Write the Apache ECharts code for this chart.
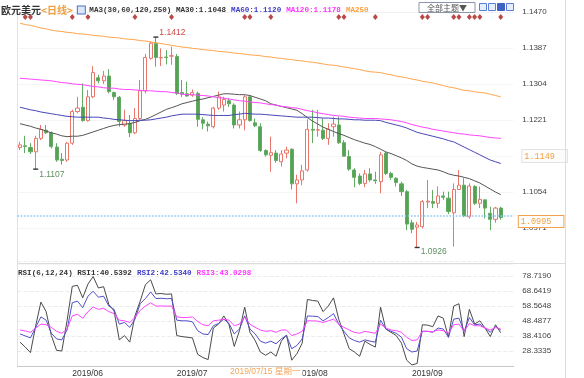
<!DOCTYPE html>
<html>
<head>
<meta charset="utf-8">
<script src="https://cdn.jsdelivr.net/npm/echarts@6.0.0/dist/echarts.min.js"></script>
<style>
html, body { margin: 0; padding: 0; background: #fff; }
#main { width: 584px; height: 378px; }
</style>
</head>
<body>
<div id="main"></div>
<script>
// daily EUR/USD candles, 2019/05/20 - 2019/09/25
var dates = [
  '2019/05/20','2019/05/21','2019/05/22','2019/05/23','2019/05/24','2019/05/27','2019/05/28','2019/05/29','2019/05/30','2019/05/31',
  '2019/06/03','2019/06/04','2019/06/05','2019/06/06','2019/06/07','2019/06/10','2019/06/11','2019/06/12','2019/06/13','2019/06/14',
  '2019/06/17','2019/06/18','2019/06/19','2019/06/20','2019/06/21','2019/06/24','2019/06/25','2019/06/26','2019/06/27','2019/06/28',
  '2019/07/01','2019/07/02','2019/07/03','2019/07/04','2019/07/05','2019/07/08','2019/07/09','2019/07/10','2019/07/11','2019/07/12',
  '2019/07/15','2019/07/16','2019/07/17','2019/07/18','2019/07/19','2019/07/22','2019/07/23','2019/07/24','2019/07/25','2019/07/26',
  '2019/07/29','2019/07/30','2019/07/31','2019/08/01','2019/08/02','2019/08/05','2019/08/06','2019/08/07','2019/08/08','2019/08/09',
  '2019/08/12','2019/08/13','2019/08/14','2019/08/15','2019/08/16','2019/08/19','2019/08/20','2019/08/21','2019/08/22','2019/08/23',
  '2019/08/26','2019/08/27','2019/08/28','2019/08/29','2019/08/30','2019/09/02','2019/09/03','2019/09/04','2019/09/05','2019/09/06',
  '2019/09/09','2019/09/10','2019/09/11','2019/09/12','2019/09/13','2019/09/16','2019/09/17','2019/09/18','2019/09/19','2019/09/20',
  '2019/09/23','2019/09/24','2019/09/25'
];
var opens = [1.1157,1.1161,1.1157,1.1147,1.1178,1.1197,1.1191,1.1158,1.1130,1.1128,
  1.1167,1.1240,1.1250,1.1219,1.1274,1.1318,1.1311,1.1322,1.1284,1.1273,
  1.1209,1.1213,1.1191,1.1224,1.1288,1.1363,1.1398,1.1364,1.1366,1.1368,
  1.1367,1.1284,1.1281,1.1278,1.1282,1.1221,1.1211,1.1205,1.1248,1.1255,
  1.1265,1.1255,1.1209,1.1221,1.1274,1.1214,1.1205,1.1150,1.1139,1.1144,
  1.1124,1.1144,1.1153,1.1073,1.1082,1.1105,1.1199,1.1197,1.1197,1.1178,
  1.1205,1.1209,1.1168,1.1136,1.1105,1.1091,1.1074,1.1096,1.1082,1.1078,
  1.1144,1.1097,1.1086,1.1073,1.1055,1.0983,1.0973,1.0974,1.1031,1.1032,
  1.1028,1.1045,1.1040,1.1006,1.1060,1.1070,1.0997,1.1067,1.1028,1.1036,
  1.1005,1.0991,1.1017];
var closes = [1.1163,1.1159,1.1147,1.1178,1.1199,1.1191,1.1159,1.1128,1.1127,1.1167,
  1.1240,1.1248,1.1219,1.1274,1.1330,1.1311,1.1322,1.1286,1.1274,1.1217,
  1.1219,1.1191,1.1224,1.1288,1.1365,1.1398,1.1365,1.1365,1.1365,1.1369,
  1.1282,1.1281,1.1276,1.1284,1.1222,1.1213,1.1207,1.1248,1.1274,1.1268,
  1.1258,1.1209,1.1221,1.1274,1.1219,1.1207,1.1150,1.1140,1.1145,1.1127,
  1.1142,1.1151,1.1073,1.1082,1.1103,1.1199,1.1197,1.1198,1.1178,1.1199,
  1.1211,1.1168,1.1137,1.1107,1.1088,1.1074,1.1096,1.1082,1.1080,1.1140,
  1.1097,1.1088,1.1076,1.1055,1.0980,1.0968,1.0978,1.1032,1.1033,1.1028,
  1.1045,1.1042,1.1009,1.1060,1.1070,1.0999,1.1068,1.1028,1.1037,1.1017,
  1.0991,1.1017,1.0995];
var highs = [1.1170,1.1184,1.1167,1.1184,1.1209,1.1209,1.1194,1.1167,1.1144,1.1170,
  1.1244,1.1274,1.1305,1.1290,1.1345,1.1325,1.1334,1.1338,1.1286,1.1276,
  1.1244,1.1232,1.1248,1.1313,1.1373,1.1401,1.1412,1.1386,1.1382,1.1390,
  1.1373,1.1313,1.1309,1.1291,1.1286,1.1227,1.1217,1.1251,1.1286,1.1274,
  1.1271,1.1259,1.1240,1.1278,1.1278,1.1224,1.1213,1.1153,1.1182,1.1151,
  1.1151,1.1159,1.1155,1.1094,1.1117,1.1222,1.1244,1.1244,1.1224,1.1213,
  1.1228,1.1228,1.1174,1.1151,1.1109,1.1097,1.1105,1.1109,1.1101,1.1147,
  1.1147,1.1101,1.1088,1.1078,1.1059,1.0990,1.0985,1.1036,1.1082,1.1059,
  1.1067,1.1055,1.1055,1.1074,1.1105,1.1086,1.1074,1.1070,1.1067,1.1036,
  1.1020,1.1020,1.1020];
var lows = [1.1151,1.1144,1.1142,1.1107,1.1174,1.1188,1.1155,1.1124,1.1117,1.1124,
  1.1163,1.1236,1.1217,1.1217,1.1271,1.1305,1.1304,1.1282,1.1267,1.1205,
  1.1205,1.1181,1.1188,1.1221,1.1282,1.1360,1.1344,1.1345,1.1349,1.1348,
  1.1278,1.1274,1.1274,1.1274,1.1205,1.1199,1.1194,1.1201,1.1244,1.1240,
  1.1251,1.1201,1.1201,1.1197,1.1217,1.1204,1.1147,1.1136,1.1101,1.1122,
  1.1113,1.1132,1.1060,1.1028,1.1070,1.1101,1.1167,1.1182,1.1174,1.1163,
  1.1182,1.1165,1.1136,1.1103,1.1065,1.1070,1.1065,1.1078,1.1073,1.1051,
  1.1093,1.1082,1.1067,1.1045,1.0966,1.0959,1.0926,1.0970,1.1017,1.1017,
  1.1017,1.1036,1.1003,1.0928,1.1059,1.0996,1.0993,1.1024,1.1017,1.0993,
  1.0966,1.0983,1.0990];

var ma30 = [1.1212,1.1209,1.1206,1.1202,1.1199,1.1195,1.1191,1.1188,1.1184,1.1182,
  1.1183,1.1183,1.1185,1.1189,1.1193,1.1197,1.1201,1.1205,1.1208,1.1210,
  1.1211,1.1212,1.1215,1.1219,1.1222,1.1227,1.1233,1.1239,1.1245,1.1249,
  1.1253,1.1258,1.1261,1.1264,1.1267,1.1269,1.1272,1.1275,1.1278,1.1281,
  1.1281,1.1280,1.1279,1.1279,1.1277,1.1273,1.1269,1.1265,1.1258,1.1255,
  1.1252,1.1249,1.1246,1.1243,1.1235,1.1226,1.1218,1.1211,1.1204,1.1199,
  1.1194,1.1189,1.1185,1.1180,1.1175,1.1171,1.1167,1.1164,1.1159,1.1153,
  1.1147,1.1143,1.1138,1.1133,1.1127,1.1119,1.1114,1.1111,1.1109,1.1107,
  1.1105,1.1101,1.1096,1.1093,1.1091,1.1088,1.1085,1.1080,1.1075,1.1068,
  1.1061,1.1054,1.1048];
var ma60 = [1.1250,1.1247,1.1244,1.1242,1.1239,1.1237,1.1235,1.1233,1.1231,1.1229,
  1.1228,1.1227,1.1227,1.1227,1.1227,1.1227,1.1225,1.1224,1.1222,1.1221,
  1.1220,1.1219,1.1219,1.1220,1.1220,1.1221,1.1223,1.1225,1.1227,1.1230,
  1.1232,1.1234,1.1234,1.1234,1.1234,1.1233,1.1232,1.1231,1.1231,1.1231,
  1.1231,1.1233,1.1234,1.1236,1.1235,1.1234,1.1234,1.1233,1.1232,1.1231,
  1.1230,1.1229,1.1228,1.1227,1.1227,1.1227,1.1227,1.1226,1.1225,1.1225,
  1.1224,1.1223,1.1223,1.1222,1.1221,1.1221,1.1220,1.1220,1.1220,1.1219,
  1.1215,1.1212,1.1209,1.1206,1.1202,1.1197,1.1192,1.1189,1.1186,1.1183,
  1.1180,1.1177,1.1173,1.1170,1.1164,1.1158,1.1152,1.1146,1.1140,1.1134,
  1.1128,1.1124,1.1120];
var ma120 = [1.1317,1.1316,1.1315,1.1314,1.1313,1.1312,1.1311,1.1309,1.1307,1.1306,
  1.1304,1.1303,1.1302,1.1300,1.1298,1.1297,1.1295,1.1294,1.1294,1.1292,
  1.1291,1.1291,1.1290,1.1289,1.1288,1.1288,1.1287,1.1286,1.1286,1.1284,
  1.1283,1.1280,1.1279,1.1279,1.1278,1.1277,1.1276,1.1274,1.1272,1.1271,
  1.1269,1.1267,1.1265,1.1264,1.1262,1.1261,1.1260,1.1258,1.1256,1.1255,
  1.1252,1.1251,1.1249,1.1248,1.1245,1.1242,1.1240,1.1237,1.1235,1.1233,
  1.1231,1.1230,1.1229,1.1227,1.1226,1.1225,1.1224,1.1224,1.1224,1.1223,
  1.1222,1.1221,1.1219,1.1217,1.1214,1.1210,1.1207,1.1204,1.1202,1.1199,
  1.1197,1.1195,1.1193,1.1191,1.1189,1.1188,1.1186,1.1185,1.1184,1.1182,
  1.1180,1.1179,1.1178];
var ma250 = [1.1444,1.1441,1.1439,1.1436,1.1433,1.1431,1.1428,1.1426,1.1425,1.1423,
  1.1422,1.1420,1.1419,1.1418,1.1416,1.1415,1.1414,1.1412,1.1411,1.1410,
  1.1408,1.1407,1.1406,1.1404,1.1403,1.1401,1.1399,1.1397,1.1395,1.1393,
  1.1391,1.1389,1.1388,1.1386,1.1385,1.1383,1.1382,1.1381,1.1379,1.1378,
  1.1377,1.1375,1.1374,1.1373,1.1371,1.1370,1.1369,1.1367,1.1366,1.1364,
  1.1363,1.1361,1.1360,1.1358,1.1357,1.1355,1.1354,1.1352,1.1350,1.1348,
  1.1347,1.1345,1.1343,1.1341,1.1339,1.1337,1.1334,1.1332,1.1331,1.1330,
  1.1327,1.1325,1.1322,1.1320,1.1318,1.1315,1.1313,1.1310,1.1308,1.1306,
  1.1303,1.1300,1.1297,1.1295,1.1292,1.1289,1.1288,1.1286,1.1284,1.1283,
  1.1280,1.1277,1.1274];

var rsi1 = [34.26,30.96,27.21,45.27,61.13,54.75,38.67,28.75,28.31,48.58,
  71.71,72.37,64.00,73.25,78.31,70.60,71.49,59.59,55.19,35.80,
  38.67,34.26,51.88,61.79,72.81,76.11,66.64,66.90,66.40,66.64,
  38.67,38.01,37.56,37.12,26.11,23.91,22.59,43.73,46.38,51.88,
  45.93,31.40,41.97,57.83,40.87,35.36,27.65,25.45,27.65,24.79,
  34.92,39.11,22.15,26.55,33.60,62.89,62.23,61.79,54.75,58.49,
  64.00,49.68,39.77,29.86,27.65,24.79,34.92,32.72,30.96,57.83,
  43.07,40.87,38.67,33.60,22.15,19.00,19.94,45.93,45.70,44.61,
  51.88,50.34,37.56,58.49,60.03,38.01,56.29,46.38,48.58,43.73,
  38.01,45.93,40.5392];
var rsi2 = [39.77,38.45,37.12,44.17,51.22,49.02,40.21,36.46,35.80,42.41,
  60.69,61.79,57.39,65.10,68.40,64.44,65.10,58.49,56.29,46.38,
  47.48,44.17,49.68,60.03,63.56,67.96,63.56,63.70,63.40,63.56,
  49.02,48.58,48.58,47.92,41.97,39.77,39.33,45.27,46.81,49.68,
  46.81,39.77,43.07,51.88,43.07,39.77,34.92,33.60,34.92,33.16,
  36.46,38.67,29.86,32.06,36.46,51.88,51.66,51.44,48.58,50.78,
  53.42,46.38,41.53,37.12,35.36,34.26,35.80,34.92,34.26,49.02,
  43.07,41.53,40.21,37.56,29.86,27.65,28.31,41.53,41.53,40.87,
  43.73,43.07,37.56,49.68,50.34,41.53,50.78,45.93,46.38,43.73,
  40.87,44.61,42.5340];
var rsi3 = [42.41,41.75,40.87,43.73,46.38,45.93,44.17,41.53,40.21,43.07,
  51.88,52.98,50.34,54.75,57.83,56.29,56.95,54.75,53.42,49.02,
  48.58,47.48,50.78,55.63,58.49,60.69,58.49,58.55,58.40,58.49,
  51.22,50.78,50.78,51.22,48.14,45.93,45.27,48.58,49.02,49.68,
  49.02,45.27,46.38,51.22,46.38,44.17,42.41,41.53,41.97,40.87,
  42.41,42.41,38.67,39.77,41.53,48.58,48.58,48.36,47.48,48.58,
  49.68,46.38,44.17,42.41,40.87,40.21,41.53,40.87,40.21,46.38,
  43.73,42.41,41.97,40.87,37.56,35.36,35.80,41.53,41.53,41.31,
  42.41,41.97,40.21,45.93,46.38,41.53,46.81,45.27,45.27,43.73,
  42.41,44.17,43.0298];

// event markers (candle indexes) on the top row
var eventIdx = [1,2,10,13,22,29,43,44,48,61,62,68,77,78,83,84,86,87,88,92];

// axis ticks
var priceMin = 1.08878333, priceStep = 0.00831667;
var priceLabels = ['1.0971','1.1054','1.1149','1.1221','1.1304','1.1387','1.1470'];
var crossTick = 2;
var rsiMin = 18.2564, rsiStep = 10.0771;

var lastPrice = 1.0995;
var crossDate = '2019/07/15', crossDay = '星期一';

var chart = echarts.init(document.getElementById('main'));
var n = dates.length;
var last = n - 1;
var cats = dates.concat(['', '']);
var priceMax = priceMin + 7 * priceStep;
var rsiMax = rsiMin + 7 * rsiStep;
var candles = dates.map(function (d, i) { return [opens[i], closes[i], lows[i], highs[i]]; });

function argMax(a, from, to) { var k = from; for (var i = from; i < to; i++) if (a[i] > a[k]) k = i; return k; }
function argMin(a, from, to) { var k = from; for (var i = from; i < to; i++) if (a[i] < a[k]) k = i; return k; }
var hiIdx = argMax(highs, 0, n);
var loIdx = argMin(lows, 0, n);
var lo1Idx = argMin(lows, 0, 20);

var mono = '"Liberation Mono", "DejaVu Sans Mono", monospace';
var sans = '"Liberation Sans", Arial, sans-serif';
var cjk = '"Noto Sans CJK SC", sans-serif';

function monthStart(i, v) {
  return i > 0 && i < n && v.slice(0, 7) !== cats[i - 1].slice(0, 7);
}

function lineSeries(name, data, color, xi, yi) {
  return {
    name: name, type: 'line', data: data, xAxisIndex: xi, yAxisIndex: yi,
    symbol: 'none', lineStyle: { width: 1, color: color }, silent: true, z: 3
  };
}

var extremeLabel = { show: true, fontFamily: sans, fontSize: 8.5, color: '#5f8f5f' };

var option = {
  animation: false,
  backgroundColor: '#fff',
  title: [{
    left: 1, top: 1, padding: 0,
    text: '{cn|欧元美元}{tag|<日线>} {ic|}{k| MA3(30,60,120,250) MA30:' + ma30[last].toFixed(4) +
      '} {b|MA60:' + ma60[last].toFixed(4) + '} {m|MA120:' + ma120[last].toFixed(4) + '} {o|MA250}',
    textStyle: {
      rich: {
        cn: { fontFamily: cjk, fontSize: 10, color: '#333' },
        tag: { fontFamily: cjk, fontSize: 10, color: '#f0a040' },
        ic: { width: 7, height: 7, backgroundColor: '#dde6fb', borderColor: '#4b6fc4', borderWidth: 1 },
        k: { fontFamily: mono, fontSize: 7.6, color: '#333' },
        b: { fontFamily: mono, fontSize: 7.6, color: '#3c3cc8' },
        m: { fontFamily: mono, fontSize: 7.6, color: '#ff33ff' },
        o: { fontFamily: mono, fontSize: 7.6, color: '#ffa040' }
      }
    }
  }, {
    left: 18, top: 264, padding: 0,
    text: '{k|RSI(6,12,24) RSI1:' + rsi1[last].toFixed(4) + '} {b|RSI2:' + rsi2[last].toFixed(4) +
      '} {m|RSI3:' + rsi3[last].toFixed(4) + '}',
    textStyle: {
      rich: {
        k: { fontFamily: mono, fontSize: 7.6, color: '#333' },
        b: { fontFamily: mono, fontSize: 7.6, color: '#3c3cc8' },
        m: { fontFamily: mono, fontSize: 7.6, color: '#ff33ff' }
      }
    }
  }],
  grid: [
    { left: 17.4, top: 12, width: 496.4, height: 252 },
    { left: 17.4, top: 260.9, width: 496.4, height: 106.6 }
  ],
  xAxis: [{
    type: 'category', gridIndex: 0, data: cats, show: false
  }, {
    type: 'category', gridIndex: 1, data: cats,
    axisLine: { lineStyle: { color: '#c8c8c8' } },
    axisTick: { show: false },
    axisLabel: {
      interval: monthStart, align: 'left', margin: 3,
      fontFamily: sans, fontSize: 8.5, color: '#333',
      formatter: function (v) { return v.slice(0, 7); }
    }
  }],
  yAxis: [{
    type: 'value', gridIndex: 0, position: 'right',
    min: priceMin, max: priceMax, interval: priceStep,
    axisLine: { show: false }, axisTick: { show: false },
    splitLine: { lineStyle: { color: '#ececec', type: 'dotted' } },
    axisLabel: {
      showMinLabel: false, margin: 8.5, fontFamily: sans, fontSize: 8, color: '#444',
      formatter: function (v) {
        var k = Math.round((v - priceMin) / priceStep) - 1;
        if (k < 0 || k >= priceLabels.length) return '';
        return k === crossTick ? '{o|' + priceLabels[k] + '}' : priceLabels[k];
      },
      rich: {
        o: {
          fontFamily: mono, fontSize: 8.5, color: '#f0a040', backgroundColor: '#fcfcfc',
          borderColor: '#e2e2e2', borderWidth: 1, padding: [2, 12, 1, 2]
        }
      }
    }
  }, {
    type: 'value', gridIndex: 0, position: 'left',
    min: priceMin, max: priceMax, interval: priceStep,
    axisLine: { show: true, lineStyle: { color: '#e2e2e2' } },
    axisTick: { show: false }, axisLabel: { show: false }, splitLine: { show: false }
  }, {
    type: 'value', gridIndex: 1, position: 'right',
    min: rsiMin, max: rsiMax, interval: rsiStep,
    axisLine: { show: false }, axisTick: { show: false },
    splitLine: { lineStyle: { color: '#ececec', type: 'dashed' } },
    axisLabel: {
      showMinLabel: false, showMaxLabel: false, margin: 8.5,
      fontFamily: sans, fontSize: 8, color: '#444',
      formatter: function (v) { return v.toFixed(4); }
    }
  }, {
    type: 'value', gridIndex: 1, position: 'left',
    min: rsiMin, max: rsiMax, interval: rsiStep,
    axisLine: { show: true, lineStyle: { color: '#e2e2e2' } },
    axisTick: { show: false }, axisLabel: { show: false }, splitLine: { show: false }
  }],
  series: [{
    name: 'K', type: 'candlestick', xAxisIndex: 0, yAxisIndex: 0,
    data: candles, barWidth: 3.6,
    itemStyle: {
      color: '#ffffff', color0: '#55a255',
      borderColor: '#e8766a', borderColor0: '#62ab62', borderColorDoji: '#e8766a', borderWidth: 1
    },
    markPoint: {
      symbol: 'rect', symbolSize: [5, 1.4], itemStyle: { color: '#333' },
      data: [
        { coord: [hiIdx, highs[hiIdx]], value: highs[hiIdx].toFixed(4),
          label: { show: true, position: [6, -8], fontFamily: sans, fontSize: 8.5, color: '#cc4a44' } },
        { coord: [lo1Idx, lows[lo1Idx]], value: lows[lo1Idx].toFixed(4),
          label: Object.assign({ position: [6, 1.5] }, extremeLabel) },
        { coord: [loIdx, lows[loIdx]], value: lows[loIdx].toFixed(4),
          label: Object.assign({ position: [6, 0.5] }, extremeLabel) }
      ]
    },
    markLine: {
      silent: true, symbol: 'none',
      lineStyle: { color: '#8cc6f2', type: 'dotted', width: 1.6 },
      label: {
        show: true, position: 'end', distance: 5, offset: [0, 6],
        formatter: lastPrice.toFixed(4),
        fontFamily: mono, fontSize: 8.5, color: '#f0a040', backgroundColor: '#fff',
        borderColor: '#f3a04c', borderWidth: 1, padding: [1, 12, 1, 2]
      },
      data: [{ yAxis: lastPrice }]
    }
  },
  lineSeries('MA30', ma30, '#555555', 0, 0),
  lineSeries('MA60', ma60, '#4646b8', 0, 0),
  lineSeries('MA120', ma120, '#ff44ff', 0, 0),
  lineSeries('MA250', ma250, '#ffa64d', 0, 0),
  {
    name: 'events', type: 'scatter', xAxisIndex: 0, yAxisIndex: 0,
    symbol: 'diamond', symbolSize: [5, 6], itemStyle: { color: '#a81c1c' },
    data: eventIdx.map(function (i) { return [i, priceMax - (priceMax - priceMin) * 0.02]; }),
    silent: true
  },
  lineSeries('RSI1', rsi1, '#4a4a4a', 1, 2),
  lineSeries('RSI2', rsi2, '#5050c8', 1, 2),
  lineSeries('RSI3', rsi3, '#ff44ff', 1, 2)
  ]
};
chart.setOption(option);

// crosshair date label and panel chrome
var cx = chart.convertToPixel({ xAxisIndex: 1 }, crossDate);
var by = chart.convertToPixel({ yAxisIndex: 2 }, rsiMin);
var gx0 = chart.convertToPixel({ xAxisIndex: 1 }, dates[0]);
chart.setOption({
  graphic: [
    { type: 'line', z: 50, shape: { x1: 565.5, y1: 0, x2: 565.5, y2: 378 }, style: { stroke: '#dcdcdc', lineWidth: 1 } },
    { type: 'line', z: 50, shape: { x1: gx0 - 3, y1: 263.5, x2: 565, y2: 263.5 }, style: { stroke: '#dcdcdc', lineWidth: 1 } },
    { type: 'rect', z: 50, shape: { x: 419, y: 2.5, width: 56, height: 10 }, style: { fill: '#fff', stroke: '#8a96a8', lineWidth: 1 } },
    { type: 'text', z: 51, x: 447, y: 7.5, style: { text: '全部主题▼', font: '8px ' + cjk, fill: '#555', align: 'center', verticalAlign: 'middle' } },
    { type: 'rect', z: 50, shape: { x: 479.5, y: 3.5, width: 7, height: 7 }, style: { fill: '#e6edfc', stroke: '#5b7fd6' } },
    { type: 'rect', z: 50, shape: { x: 488.5, y: 3.5, width: 7, height: 7 }, style: { fill: '#e6edfc', stroke: '#5b7fd6' } },
    { type: 'rect', z: 50, shape: { x: 497.5, y: 3.5, width: 7, height: 7 }, style: { fill: '#3f62c4', stroke: '#3f62c4' } },
    { type: 'rect', z: 50, shape: { x: 506.5, y: 3.5, width: 7, height: 7 }, style: { fill: '#e6edfc', stroke: '#5b7fd6' } },
    {
      type: 'text', z: 60, x: cx, y: by + 1.5,
      style: {
        text: crossDate + ' ' + crossDay, font: '8.5px ' + sans + ', ' + cjk,
        fill: '#f2a65a', backgroundColor: '#fff', padding: [0, 2, 0, 1]
      }
    }
  ]
});
</script>
</body>
</html>
